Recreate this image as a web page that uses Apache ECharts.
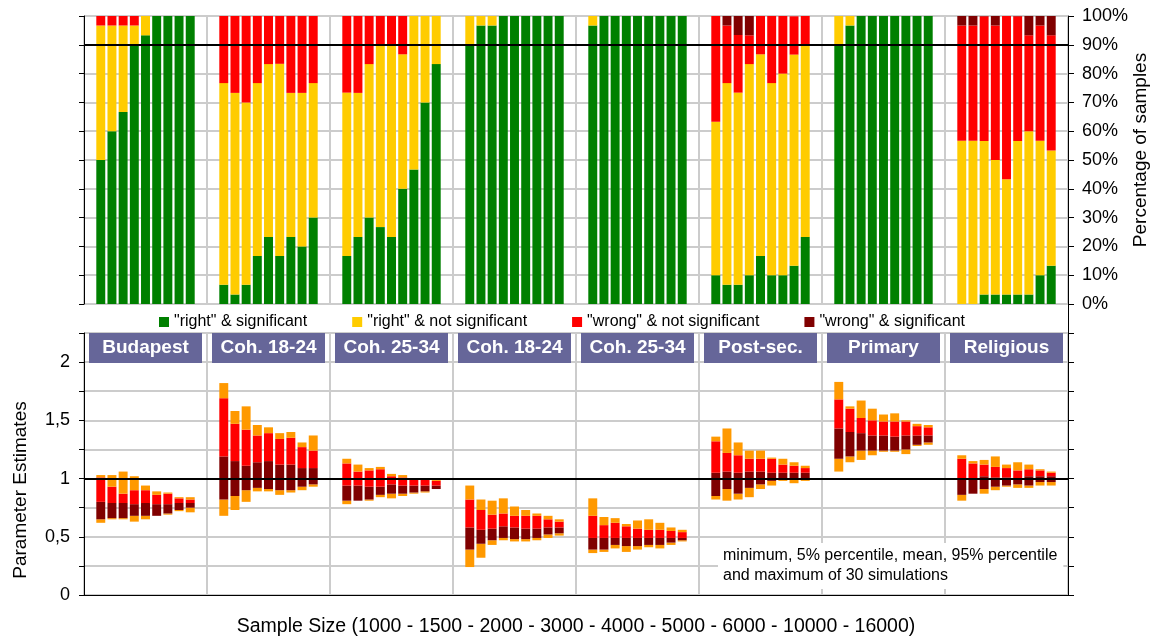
<!DOCTYPE html>
<html><head><meta charset="utf-8">
<script src="https://cdn.jsdelivr.net/npm/echarts@6/dist/echarts.min.js"></script>
<style>html,body{margin:0;padding:0;background:#fff}#c{width:1158px;height:640px}</style>
</head><body><div id="c"></div>
<script>
// ---------- categories ----------
const groups = ['Budapest', 'Coh. 18-24', 'Coh. 25-34', 'Coh. 18-24', 'Coh. 25-34', 'Post-sec.', 'Primary', 'Religious'];
const sampleSizes = ['1000', '1500', '2000', '3000', '4000', '5000', '6000', '10000', '16000'];
const percentTicks = [0, 10, 20, 30, 40, 50, 60, 70, 80, 90, 100];

// ---------- top panel: percentage of samples (9 sample sizes per group) ----------
const rightSig = [
  [50, 60, 66.7, 90, 93.3, 100, 100, 100, 100],
  [6.7, 3.3, 6.7, 16.7, 23.3, 16.7, 23.3, 20, 30],
  [16.7, 23.3, 30, 26.7, 23.3, 40, 46.7, 70, 83.3],
  [90, 96.7, 96.7, 100, 100, 100, 100, 100, 100],
  [96.7, 100, 100, 100, 100, 100, 100, 100, 100],
  [10, 6.7, 6.7, 10, 16.7, 10, 10, 13.3, 23.3],
  [90, 96.7, 100, 100, 100, 100, 100, 100, 100],
  [0, 0, 3.3, 3.3, 3.3, 3.3, 3.3, 10, 13.3]
];
const rightNotSig = [
  [46.7, 36.7, 30, 6.7, 6.7, 0, 0, 0, 0],
  [70, 70, 63.3, 60, 60, 66.7, 50, 53.3, 46.7],
  [56.7, 50, 53.3, 63.3, 66.7, 46.7, 53.3, 30, 16.7],
  [10, 3.3, 3.3, 0, 0, 0, 0, 0, 0],
  [3.3, 0, 0, 0, 0, 0, 0, 0, 0],
  [53.3, 70, 66.7, 73.3, 70, 66.7, 70, 73.3, 66.7],
  [10, 3.3, 0, 0, 0, 0, 0, 0, 0],
  [56.7, 56.7, 53.3, 46.7, 40, 53.3, 56.7, 46.7, 40]
];
const wrongNotSig = [
  [3.3, 3.3, 3.3, 3.3, 0, 0, 0, 0, 0],
  [23.3, 26.7, 30, 23.3, 16.7, 16.7, 26.7, 26.7, 23.3],
  [26.7, 26.7, 16.7, 10, 10, 13.3, 0, 0, 0],
  [0, 0, 0, 0, 0, 0, 0, 0, 0],
  [0, 0, 0, 0, 0, 0, 0, 0, 0],
  [36.7, 20, 20, 10, 13.3, 23.3, 20, 13.3, 10],
  [0, 0, 0, 0, 0, 0, 0, 0, 0],
  [40, 40, 43.3, 46.7, 56.7, 43.3, 33.3, 40, 40]
];
const wrongSig = [
  [0, 0, 0, 0, 0, 0, 0, 0, 0],
  [0, 0, 0, 0, 0, 0, 0, 0, 0],
  [0, 0, 0, 0, 0, 0, 0, 0, 0],
  [0, 0, 0, 0, 0, 0, 0, 0, 0],
  [0, 0, 0, 0, 0, 0, 0, 0, 0],
  [0, 3.3, 6.7, 6.7, 0, 0, 0, 0, 0],
  [0, 0, 0, 0, 0, 0, 0, 0, 0],
  [3.3, 3.3, 3.3, 3.3, 0, 3.3, 6.7, 3.3, 6.7]
];

// ---------- bottom panel: parameter estimates (30 simulations) ----------
const estMin = [
  [0.62, 0.65, 0.65, 0.63, 0.65, 0.68, 0.69, 0.72, 0.71],
  [0.68, 0.73, 0.80, 0.89, 0.89, 0.86, 0.88, 0.90, 0.93],
  [0.78, 0.81, 0.81, 0.84, 0.83, 0.85, 0.87, 0.88, 0.91],
  [0.24, 0.32, 0.43, 0.47, 0.46, 0.46, 0.47, 0.49, 0.51],
  [0.36, 0.37, 0.40, 0.37, 0.39, 0.41, 0.40, 0.43, 0.46],
  [0.82, 0.81, 0.82, 0.84, 0.91, 0.94, 0.98, 0.96, 0.98],
  [1.06, 1.14, 1.16, 1.20, 1.23, 1.23, 1.21, 1.28, 1.29],
  [0.81, 0.87, 0.87, 0.90, 0.93, 0.92, 0.92, 0.94, 0.94]
];
const estP5 = [
  [0.65, 0.66, 0.66, 0.68, 0.68, 0.68, 0.70, 0.73, 0.75],
  [0.82, 0.85, 0.90, 0.92, 0.91, 0.90, 0.90, 0.93, 0.95],
  [0.81, 0.81, 0.82, 0.86, 0.87, 0.87, 0.88, 0.89, 0.91],
  [0.39, 0.44, 0.47, 0.49, 0.48, 0.48, 0.49, 0.52, 0.53],
  [0.39, 0.39, 0.43, 0.42, 0.42, 0.43, 0.43, 0.45, 0.47],
  [0.85, 0.91, 0.87, 0.92, 0.95, 0.98, 0.99, 0.99, 0.99],
  [1.17, 1.19, 1.24, 1.24, 1.24, 1.24, 1.25, 1.29, 1.31],
  [0.86, 0.87, 0.91, 0.93, 0.94, 0.95, 0.94, 0.97, 0.97]
];
const estMean = [
  [0.80, 0.79, 0.79, 0.78, 0.79, 0.78, 0.78, 0.79, 0.79],
  [1.19, 1.15, 1.11, 1.14, 1.15, 1.12, 1.12, 1.09, 1.09],
  [0.94, 0.94, 0.93, 0.93, 0.95, 0.94, 0.94, 0.94, 0.94],
  [0.58, 0.56, 0.57, 0.59, 0.58, 0.57, 0.57, 0.58, 0.58],
  [0.49, 0.49, 0.49, 0.49, 0.49, 0.49, 0.49, 0.49, 0.49],
  [1.05, 1.06, 1.05, 1.06, 1.06, 1.05, 1.05, 1.05, 1.05],
  [1.43, 1.40, 1.39, 1.37, 1.37, 1.36, 1.37, 1.37, 1.37],
  [0.99, 0.99, 1.02, 1.01, 1.01, 1.00, 1.02, 1.02, 1.02]
];
const estP95 = [
  [1.01, 0.93, 0.87, 0.90, 0.90, 0.86, 0.87, 0.83, 0.82],
  [1.69, 1.47, 1.42, 1.37, 1.39, 1.34, 1.35, 1.27, 1.24],
  [1.13, 1.06, 1.07, 1.08, 1.02, 1.01, 0.99, 0.99, 0.98],
  [0.82, 0.73, 0.69, 0.70, 0.68, 0.68, 0.68, 0.65, 0.63],
  [0.68, 0.60, 0.62, 0.59, 0.57, 0.56, 0.56, 0.55, 0.54],
  [1.32, 1.22, 1.20, 1.17, 1.17, 1.17, 1.12, 1.11, 1.09],
  [1.68, 1.60, 1.52, 1.50, 1.49, 1.49, 1.49, 1.45, 1.44],
  [1.17, 1.13, 1.12, 1.10, 1.09, 1.07, 1.08, 1.07, 1.05]
];
const estMax = [
  [1.03, 1.03, 1.06, 1.02, 0.94, 0.89, 0.88, 0.84, 0.84],
  [1.82, 1.58, 1.62, 1.46, 1.44, 1.39, 1.40, 1.31, 1.37],
  [1.17, 1.12, 1.09, 1.10, 1.04, 1.03, 0.99, 0.99, 0.99],
  [0.94, 0.82, 0.81, 0.83, 0.76, 0.73, 0.70, 0.68, 0.65],
  [0.83, 0.67, 0.66, 0.61, 0.64, 0.65, 0.62, 0.58, 0.56],
  [1.36, 1.43, 1.31, 1.24, 1.24, 1.18, 1.17, 1.14, 1.11],
  [1.83, 1.62, 1.67, 1.60, 1.55, 1.56, 1.50, 1.47, 1.46],
  [1.20, 1.15, 1.16, 1.19, 1.12, 1.14, 1.12, 1.08, 1.06]
];

// ---------- helpers ----------
const slotCats = [];
groups.forEach((g, gi) => {
  slotCats.push(gi + '-pre');
  sampleSizes.forEach(s => slotCats.push(gi + '-' + s));
  slotCats.push(gi + '-post');
});
function expand(arr2d) {
  const out = [];
  arr2d.forEach(g => { out.push(null); g.forEach(v => out.push(v)); out.push(null); });
  return out;
}
function diff(a, b) { // a - b per cell
  return a.map((g, i) => g.map((v, j) => Math.round((v - b[i][j]) * 1000) / 1000));
}

const FONT = '"Liberation Sans", Arial, sans-serif';
const GRID_COLOR = '#cccccc';
const C_GREEN = '#008000', C_YELLOW = '#FFCC00', C_RED = '#FF0000', C_DRED = '#800000', C_ORANGE = '#FF9900';

const topSeriesDefs = [
  ['"right" & significant', rightSig, C_GREEN],
  ['"right" & not significant', rightNotSig, C_YELLOW],
  ['"wrong" & not significant', wrongNotSig, C_RED],
  ['"wrong" & significant', wrongSig, C_DRED]
];
const series = [];
topSeriesDefs.forEach((d, i) => {
  const s = {
    name: d[0], type: 'bar', stack: 'top', xAxisIndex: 0, yAxisIndex: 0,
    barCategoryGap: '20%', data: expand(d[1]), itemStyle: { color: d[2] }, silent: true
  };
  if (i === 3) {
    s.markLine = { silent: true, symbol: 'none', label: { show: false },
      lineStyle: { color: '#000', width: 2, type: 'solid' }, data: [{ yAxis: 90 }] };
  }
  series.push(s);
});

const bottomDefs = [
  ['base', estMin, 'rgba(0,0,0,0)'],
  ['min-p5', diff(estP5, estMin), C_ORANGE],
  ['p5-mean', diff(estMean, estP5), C_DRED],
  ['mean-p95', diff(estP95, estMean), C_RED],
  ['p95-max', diff(estMax, estP95), C_ORANGE]
];
bottomDefs.forEach((d, i) => {
  const s = {
    name: d[0], type: 'bar', stack: 'est', xAxisIndex: 2, yAxisIndex: 2,
    barCategoryGap: '20%', data: expand(d[1]), itemStyle: { color: d[2] }, silent: true
  };
  if (i === 4) {
    s.markLine = { silent: true, symbol: 'none', label: { show: false },
      lineStyle: { color: '#000', width: 2, type: 'solid' }, data: [{ yAxis: 1 }] };
  }
  series.push(s);
});

const chart = echarts.init(document.getElementById('c'), null, { renderer: 'canvas' });
chart.setOption({
  animation: false,
  backgroundColor: '#fff',
  textStyle: { fontFamily: FONT, color: '#000' },
  grid: [
    { left: 84, right: 90, top: 16, height: 288 },
    { left: 84, right: 90, top: 333, height: 262 }
  ],
  legend: {
    data: topSeriesDefs.map(d => d[0]),
    left: 154, top: 309, itemGap: 45, itemWidth: 10, itemHeight: 10, icon: 'rect',
    textStyle: { fontSize: 16, color: '#000', fontFamily: FONT }, selectedMode: false
  },
  xAxis: [
    { gridIndex: 0, type: 'category', data: slotCats, position: 'bottom',
      axisLine: { show: false }, axisTick: { show: false }, axisLabel: { show: false }, splitLine: { show: false } },
    { gridIndex: 0, type: 'category', data: groups, position: 'top',
      axisLine: { show: false }, axisTick: { show: false }, axisLabel: { show: false },
      splitLine: { show: true, lineStyle: { color: GRID_COLOR, width: 2 } } },
    { gridIndex: 1, type: 'category', data: slotCats, position: 'bottom',
      axisLine: { show: true, lineStyle: { color: '#000', width: 1 } }, axisTick: { show: false },
      axisLabel: { show: false }, splitLine: { show: false },
      name: 'Sample Size (' + sampleSizes.join(' - ') + ')', nameLocation: 'middle', nameGap: 22,
      nameTextStyle: { fontSize: 19.5, color: '#000', fontFamily: FONT } },
    { gridIndex: 1, type: 'category', data: groups.map((g, i) => 'g' + i), position: 'top',
      axisLine: { show: false }, axisTick: { show: false },
      axisLabel: { show: true, inside: true, margin: 0, interval: 0,
        formatter: (v, i) => groups[i],
        color: '#fff', fontWeight: 'bold', fontSize: 19, fontFamily: FONT,
        backgroundColor: '#666699', width: 113, align: 'center', lineHeight: 20, padding: [5, 0, 5, 0] },
      splitLine: { show: true, lineStyle: { color: GRID_COLOR, width: 2 } } }
  ],
  yAxis: [
    { gridIndex: 0, type: 'value', position: 'left', min: 0, max: 100, interval: 10,
      axisLine: { show: true, lineStyle: { color: '#000' } }, axisTick: { show: true, length: 5, lineStyle: { color: '#000' } },
      axisLabel: { show: false }, splitLine: { show: true, lineStyle: { color: GRID_COLOR, width: 2 } } },
    { gridIndex: 0, type: 'value', position: 'right', min: 0, max: 100, interval: 10,
      axisLine: { show: true, lineStyle: { color: '#000' } }, axisTick: { show: true, length: 6, lineStyle: { color: '#000' } },
      axisLabel: { show: true, margin: 14, formatter: v => percentTicks.includes(v) ? v + '%' : '', fontSize: 18, color: '#000', fontFamily: FONT },
      splitLine: { show: false } },
    { gridIndex: 1, type: 'value', position: 'left', min: 0, max: 2.25, interval: 0.25,
      axisLine: { show: true, lineStyle: { color: '#000' } }, axisTick: { show: true, length: 5, lineStyle: { color: '#000' } },
      axisLabel: { show: true, margin: 14, fontSize: 18, color: '#000', fontFamily: FONT,
        formatter: v => { const t = Math.round(v * 100) / 100; return (Math.abs(t * 2 - Math.round(t * 2)) < 1e-6 && t <= 2) ? String(t).replace('.', ',') : ''; } },
      splitLine: { show: true, lineStyle: { color: GRID_COLOR, width: 2 } } },
    { gridIndex: 1, type: 'value', position: 'right', min: 0, max: 2.25, interval: 0.25,
      axisLine: { show: true, lineStyle: { color: '#000' } }, axisTick: { show: true, length: 6, lineStyle: { color: '#000' } },
      axisLabel: { show: false }, splitLine: { show: false } }
  ],
  graphic: [
    { type: 'line', z: 50, shape: { x1: 1068.5, y1: 304, x2: 1068.5, y2: 333 }, style: { stroke: '#000', lineWidth: 1 } },
    { type: 'text', z: 50, x: 1141, y: 150, rotation: Math.PI / 2,
      style: { text: 'Percentage of samples', font: '19px ' + FONT, fill: '#000', align: 'center', verticalAlign: 'middle' } },
    { type: 'text', z: 50, x: 21, y: 490, rotation: Math.PI / 2,
      style: { text: 'Parameter Estimates', font: '19px ' + FONT, fill: '#000', align: 'center', verticalAlign: 'middle' } },
    { type: 'text', z: 100, x: 718, y: 543,
      style: { text: 'minimum, 5% percentile, mean, 95% percentile\nand maximum of 30 simulations',
        font: '16px ' + FONT, fill: '#000', lineHeight: 20, backgroundColor: '#fff', padding: [3, 6, 3, 5] } }
  ],
  series: series
});
</script>
</body></html>
